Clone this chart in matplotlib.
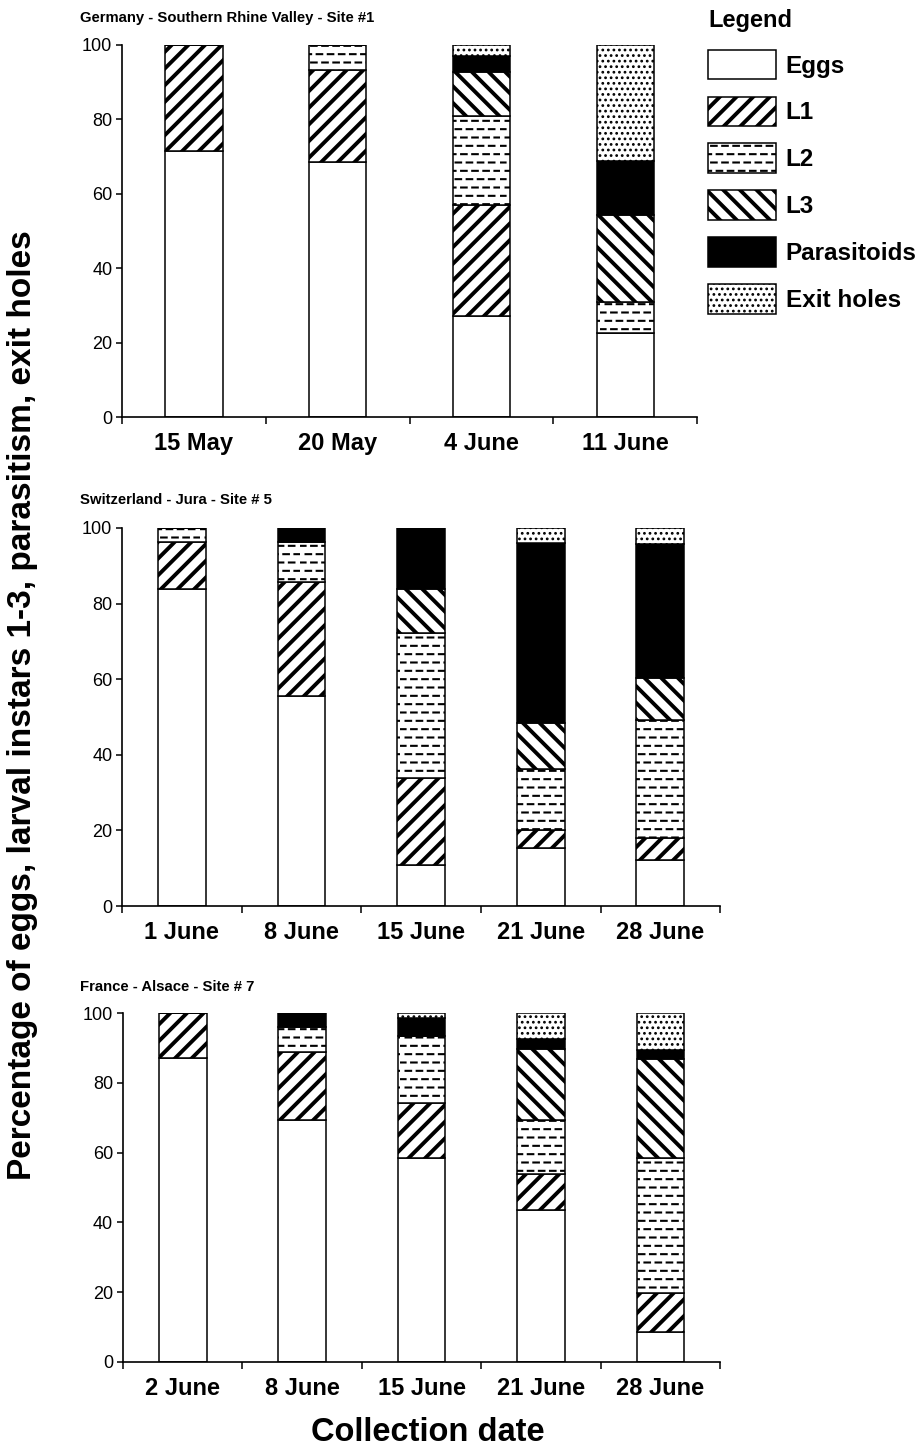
import warnings
import numpy as np
import matplotlib
matplotlib.use("Agg")
import matplotlib.pyplot as plt
import matplotlib.hatch as mhatch
from matplotlib.path import Path
from matplotlib.patches import Patch

warnings.filterwarnings("ignore")

plt.rcParams['font.family'] = ['Liberation Sans', 'DejaVu Sans']

# Stage names and hatch styles
stages = ["Eggs", "L1", "L2", "L3", "Parasitoids", "Exit holes"]

# Germany - Southern Rhine Valley - Site #1
de_dates = ["15 May", "20 May", "4 June", "11 June"]
de_eggs = [71.5, 68.6, 27.2, 22.7]
de_l1 = [28.5, 24.7, 29.9, 0.0]
de_l2 = [0.0, 6.7, 23.9, 8.2]
de_l3 = [0.0, 0.0, 11.6, 23.4]
de_para = [0.0, 0.0, 4.5, 14.5]
de_exit = [0.0, 0.0, 2.9, 31.2]

# Switzerland - Jura - Site # 5
ch_dates = ["1 June", "8 June", "15 June", "21 June", "28 June"]
ch_eggs = [83.9, 55.5, 10.9, 15.3, 12.2]
ch_l1 = [12.3, 30.3, 22.9, 4.9, 5.8]
ch_l2 = [3.8, 10.4, 38.4, 16.1, 31.3]
ch_l3 = [0.0, 0.0, 11.7, 12.2, 11.1]
ch_para = [0.0, 3.8, 16.1, 47.5, 35.4]
ch_exit = [0.0, 0.0, 0.0, 4.0, 4.2]

# France - Alsace - Site # 7
fr_dates = ["2 June", "8 June", "15 June", "21 June", "28 June"]
fr_eggs = [87.2, 69.3, 58.4, 43.5, 8.5]
fr_l1 = [12.8, 19.5, 15.9, 10.3, 11.3]
fr_l2 = [0.0, 7.3, 19.0, 15.6, 38.6]
fr_l3 = [0.0, 0.0, 0.0, 20.2, 28.3]
fr_para = [0.0, 3.9, 5.3, 3.0, 2.6]
fr_exit = [0.0, 0.0, 1.4, 7.4, 10.7]


# dashed horizontal rows, like the L2 fill of the original
class DashRows(mhatch.HatchPatternBase):
    def __init__(self, hatch, density):
        self.num_rows = int(hatch.count('_') * density)
        self.num_dashes = 9
        self.num_vertices = self.num_rows * self.num_dashes * 2

    def set_vertices_and_codes(self, vertices, codes):
        period = 1.0 / self.num_dashes
        k = 0
        for i in range(self.num_rows):
            y = (i + 0.5) / self.num_rows
            shift = 0.5 * period * (i % 2)
            for j in range(self.num_dashes):
                x0 = j * period + shift
                vertices[k] = (x0, y)
                vertices[k + 1] = (x0 + 0.5 * period, y)
                codes[k] = Path.MOVETO
                codes[k + 1] = Path.LINETO
                k += 2


mhatch._hatch_types.append(DashRows)

styles = {
    "Eggs": dict(facecolor="white", hatch=None, hlw=1.0),
    "L1": dict(facecolor="white", hatch="//", hlw=2.8),
    "L2": dict(facecolor="white", hatch="__", hlw=1.5),
    "L3": dict(facecolor="white", hatch="\\\\", hlw=2.8),
    "Parasitoids": dict(facecolor="black", hatch=None, hlw=1.0),
    "Exit holes": dict(facecolor="white", hatch="...", hlw=1.2),
}


def draw_panel(ax, dates, series):
    x = np.arange(len(dates))
    bottom = np.zeros(len(dates))
    for name, vals in zip(stages, series):
        st = styles[name]
        with plt.rc_context({'hatch.linewidth': st["hlw"]}):
            bars = ax.bar(x, vals, 0.4, bottom=bottom, facecolor=st["facecolor"],
                          edgecolor="black", linewidth=1.1, hatch=st["hatch"])
        for b in bars:
            if hasattr(b, "set_hatch_linewidth"):
                b.set_hatch_linewidth(st["hlw"])
        bottom += np.array(vals)
    ax.set_xlim(-0.5, len(dates) - 0.5)
    ax.set_ylim(0, 100)
    ax.set_yticks([0, 20, 40, 60, 80, 100])
    ax.set_xticks(x)
    ax.set_xticklabels(dates, fontsize=17, fontweight="bold")
    ax.set_xticks(np.arange(len(dates) + 1) - 0.5, minor=True)
    ax.tick_params(axis="x", which="major", length=0, pad=11)
    ax.tick_params(axis="x", which="minor", length=5, width=1.1)
    ax.tick_params(axis="y", length=4, width=1.1, labelsize=13, pad=3)
    for s in ["top", "right"]:
        ax.spines[s].set_visible(False)
    for s in ["left", "bottom"]:
        ax.spines[s].set_linewidth(1.2)


fig = plt.figure(figsize=(9.21, 14.48), dpi=100)

ax1 = fig.add_axes([0.1325, 0.712, 0.6245, 0.257])
ax2 = fig.add_axes([0.1325, 0.3743, 0.6495, 0.2611])
ax3 = fig.add_axes([0.1335, 0.0594, 0.6485, 0.241])

draw_panel(ax1, de_dates, [de_eggs, de_l1, de_l2, de_l3, de_para, de_exit])
draw_panel(ax2, ch_dates, [ch_eggs, ch_l1, ch_l2, ch_l3, ch_para, ch_exit])
draw_panel(ax3, fr_dates, [fr_eggs, fr_l1, fr_l2, fr_l3, fr_para, fr_exit])

fig.text(0.087, 0.9876, "Germany - Southern Rhine Valley - Site #1",
         fontsize=10.7, fontweight="bold", va="center")
fig.text(0.087, 0.6547, "Switzerland - Jura - Site # 5",
         fontsize=10.7, fontweight="bold", va="center")
fig.text(0.087, 0.3184, "France - Alsace - Site # 7",
         fontsize=10.7, fontweight="bold", va="center")

fig.text(0.024, 0.513, "Percentage of eggs, larval instars 1-3, parasitism, exit holes",
         rotation=90, fontsize=24, fontweight="bold", ha="center", va="center")
fig.text(0.464, 0.011, "Collection date", fontsize=23.5, fontweight="bold",
         ha="center", va="center")

# legend
handles = [Patch(facecolor=styles[n]["facecolor"], edgecolor="black",
                 hatch=styles[n]["hatch"], linewidth=1.1, label=n) for n in stages]
leg = fig.legend(handles=handles, loc="upper left", bbox_to_anchor=(0.7687, 0.9935),
                 frameon=False, borderpad=0, borderaxespad=0,
                 handlelength=2.8, handleheight=1.5, labelspacing=0.71,
                 handletextpad=0.4, title="Legend", alignment="left",
                 prop={"size": 17.5, "weight": "bold"},
                 title_fontproperties={"size": 17, "weight": "bold"})
for p, n in zip(leg.get_patches(), stages):
    if hasattr(p, "set_hatch_linewidth"):
        p.set_hatch_linewidth(styles[n]["hlw"])

fig.savefig("out.png", dpi=100)
